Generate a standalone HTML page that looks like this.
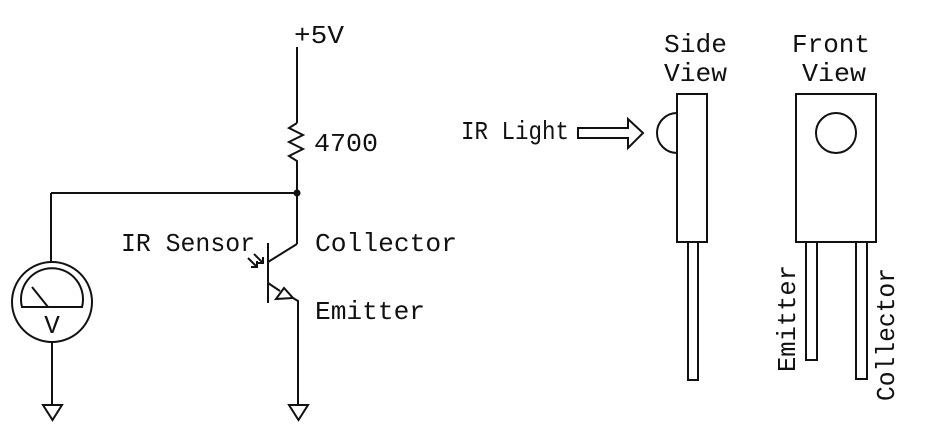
<!DOCTYPE html>
<html>
<head>
<meta charset="utf-8">
<style>
  html,body{margin:0;padding:0;background:#fff;}
  svg{display:block;}
  text{font-family:"Liberation Mono","DejaVu Sans Mono",monospace;font-size:26px;fill:#111;}
</style>
</head>
<body>
<svg width="926" height="441" viewBox="0 0 926 441" xmlns="http://www.w3.org/2000/svg">
  <rect width="926" height="441" fill="#fff"/>
  <g stroke="#111" stroke-width="2" fill="none" stroke-linejoin="miter" stroke-linecap="butt">
    <!-- supply line -->
    <line x1="297" y1="47" x2="297" y2="123"/>
    <!-- resistor -->
    <polyline points="297,123 289,128 303,135 289,142 303,149 289,156 297,161 297,163"/>
    <line x1="297" y1="163" x2="297" y2="244"/>
    <!-- junction horizontal -->
    <line x1="51" y1="193" x2="297" y2="193"/>
    <line x1="51" y1="193" x2="51" y2="262"/>
    <!-- meter -->
    <circle cx="52" cy="302" r="40"/>
    <path d="M22,307 A31,31 0 1,1 82,307 Z"/>
    <line x1="32" y1="287" x2="48" y2="307"/>
    <line x1="52" y1="342" x2="52" y2="405"/>
    <!-- ground left -->
    <polygon points="43,405 62,405 52.5,420"/>
    <!-- transistor -->
    <line x1="268" y1="243" x2="268" y2="303"/>
    <polyline points="268,262 297,244"/>
    <line x1="268" y1="283" x2="280" y2="291"/>
    <polygon points="276,299 284,288 293,298"/>
    <polyline points="293,298 298,301 298,405"/>
    <!-- light arrows -->
    <line x1="248" y1="258" x2="257" y2="267"/>
    <polyline points="251,267 257,267 257,261"/>
    <line x1="254" y1="254" x2="263" y2="263"/>
    <polyline points="257,263 263,263 263,257"/>
    <!-- ground right -->
    <polygon points="289,405 308,405 298.5,420"/>
    <!-- IR light arrow -->
    <polygon points="578,128 628,128 628,119 643,133 628,148 628,138 578,138"/>
    <!-- side view -->
    <rect x="677" y="94" width="30" height="148"/>
    <path d="M677,113 A20,20 0 0,0 677,153"/>
    <rect x="688" y="242" width="10" height="138"/>
    <!-- front view -->
    <rect x="796" y="94" width="80" height="148"/>
    <circle cx="836" cy="133" r="20"/>
    <rect x="806" y="242" width="11" height="118"/>
    <rect x="856" y="242" width="11" height="137"/>
  </g>
  <circle cx="297" cy="193" r="3.5" fill="#111"/>
  <!-- labels -->
  <text x="294" y="43" textLength="50" lengthAdjust="spacingAndGlyphs">+5V</text>
  <text x="314" y="151" textLength="64" lengthAdjust="spacingAndGlyphs">4700</text>
  <text x="121" y="251" textLength="134" lengthAdjust="spacingAndGlyphs">IR Sensor</text>
  <text x="315" y="251" textLength="142" lengthAdjust="spacingAndGlyphs">Collector</text>
  <text x="315" y="319" textLength="110" lengthAdjust="spacingAndGlyphs">Emitter</text>
  <text x="52" y="333" text-anchor="middle">V</text>
  <text x="461" y="139" textLength="108" lengthAdjust="spacingAndGlyphs">IR Light</text>
  <text x="664" y="52" textLength="63" lengthAdjust="spacingAndGlyphs">Side</text>
  <text x="664" y="81" textLength="63" lengthAdjust="spacingAndGlyphs">View</text>
  <text x="792" y="52" textLength="78" lengthAdjust="spacingAndGlyphs">Front</text>
  <text x="802" y="81" textLength="64" lengthAdjust="spacingAndGlyphs">View</text>
  <text transform="translate(795,372) rotate(-90)" textLength="107" lengthAdjust="spacingAndGlyphs">Emitter</text>
  <text transform="translate(894,401) rotate(-90)" textLength="133" lengthAdjust="spacingAndGlyphs">Collector</text>
</svg>
</body>
</html>
